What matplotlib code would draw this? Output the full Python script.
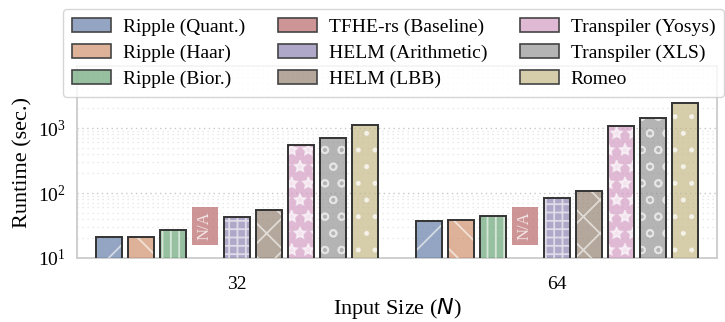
import colorsys
import numpy as np
import matplotlib
matplotlib.use("Agg")
import matplotlib.pyplot as plt
import matplotlib.colors as mcolors
from matplotlib.patches import Patch

# ---------------- data ----------------
groups = ["32", "64"]
methods = ["Ripple (Quant.)", "Ripple (Haar)", "Ripple (Bior.)",
           "TFHE-rs (Baseline)", "HELM (Arithmetic)", "HELM (LBB)",
           "Transpiler (Yosys)", "Transpiler (XLS)", "Romeo"]
ripple_quant = [20.8, 37.5]
ripple_haar = [20.8, 38.5]
ripple_bior = [27.0, 44.3]
tfhe_rs = [None, None]          # N/A
helm_arith = [42.3, 83.8]
helm_lbb = [54.7, 108.6]
transpiler_yosys = [547, 1084]
transpiler_xls = [708, 1409]
romeo = [1112, 2455]
series = [ripple_quant, ripple_haar, ripple_bior, tfhe_rs, helm_arith,
          helm_lbb, transpiler_yosys, transpiler_xls, romeo]
hatches = ["/", "\\", "||", "", "++", "x", "*", "o", "."]
ytick_vals = [10, 100, 1000]

# ---------------- style ----------------
plt.rcParams["font.family"] = ["Liberation Serif", "DejaVu Serif"]
plt.rcParams["mathtext.fontset"] = "dejavusans"
plt.rcParams["hatch.linewidth"] = 1.3

deep = ['#4C72B0', '#DD8452', '#55A868', '#C44E52', '#8172B3',
        '#937860', '#DA8BC3', '#8C8C8C', '#CCB974']


def desat(c, p=0.75):
    r, g, b = mcolors.to_rgb(c)
    h, l, s = colorsys.rgb_to_hls(r, g, b)
    return colorsys.hls_to_rgb(h, l, s * p)


ALPHA = 0.65
colors = [desat(c) for c in deep]
face = [(r, g, b, ALPHA) for (r, g, b) in colors]

fig = plt.figure(figsize=(7.25, 3.22), dpi=100)
ax = fig.add_axes([77 / 725, 1 - 258 / 322, 640 / 725, 192 / 322])
ax.set_yscale("log")

n = len(methods)
slot = 0.1
width = 0.08
xc = np.arange(len(groups))
for j, (vals, h) in enumerate(zip(series, hatches)):
    x = xc + (j - (n - 1) / 2) * slot
    for gi, v in enumerate(vals):
        if v is None:
            ax.text(x[gi], 31, "N/A", rotation=90, ha="center", va="center",
                    fontsize=12, color=(1, 1, 1, 0.75), zorder=4,
                    bbox=dict(boxstyle="square,pad=0.3", facecolor=face[j],
                              edgecolor="none"))
            continue
        ax.bar(x[gi], v, width=width, bottom=0, color=face[j],
               edgecolor=(1, 1, 1, 0.6), linewidth=0, hatch=h, zorder=3)
        ax.bar(x[gi], v, width=width, bottom=0, fill=False,
               edgecolor="#333333", linewidth=1.4, zorder=3.5)

ax.set_xlim(-0.5, 1.5)
ax.set_ylim(10, 9000)
ax.set_xticks(xc)
ax.set_xticklabels(groups, fontsize=14)
ax.set_yticks(ytick_vals)
ax.tick_params(axis="y", labelsize=14, pad=8)
ax.tick_params(axis="x", pad=13)
ax.tick_params(which="both", length=0)
ax.set_xlabel("Input Size ($N$)", fontsize=16, labelpad=2)
ax.set_ylabel("Runtime (sec.)", fontsize=16)

ax.grid(which="major", axis="y", linestyle=(0, (1, 2.5)), color="#c8c8c8",
        linewidth=1.0, zorder=0)
ax.grid(which="minor", axis="y", linestyle=(0, (1, 3)), color="#e3e3e3",
        linewidth=0.9, zorder=0)
ax.grid(which="both", axis="x", visible=False)
ax.set_axisbelow(True)
for s in ax.spines.values():
    s.set_color("#cccccc")
    s.set_linewidth(1.3)

handles = [Patch(facecolor=face[j], edgecolor="#444444", linewidth=1.2)
           for j in range(n)]
leg = ax.legend(handles, methods, ncol=3, loc="upper center",
                bbox_to_anchor=(0.495, 1.297), borderaxespad=0.0,
                fontsize=14, frameon=True,
                fancybox=True, framealpha=0.8, edgecolor="#cccccc",
                handlelength=2.0, handleheight=0.75, columnspacing=1.7,
                labelspacing=0.42, borderpad=0.45, handletextpad=0.6)
leg.set_zorder(10)

fig.savefig("out.png", dpi=100)
